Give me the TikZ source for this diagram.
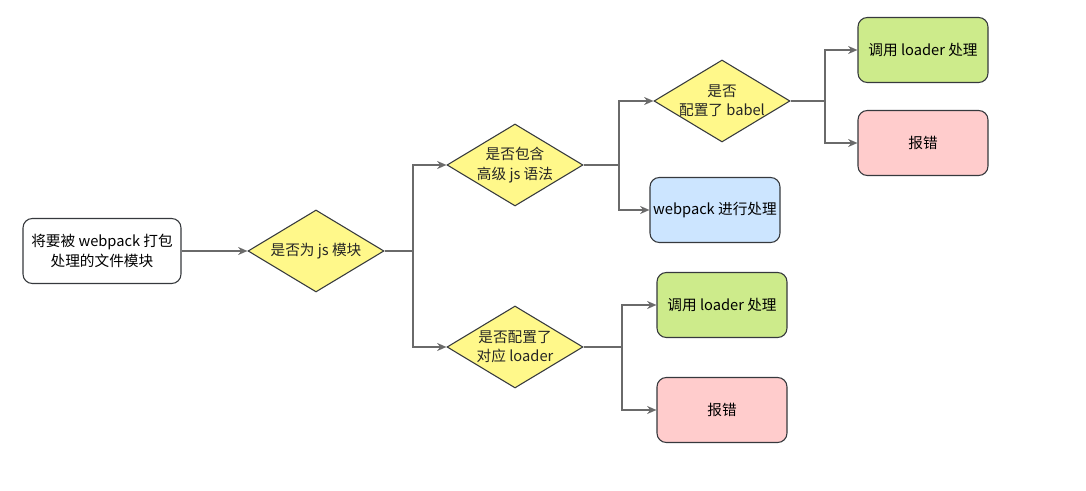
\documentclass[tikz,border=0pt]{standalone}
\usepackage{fontspec}
\setmainfont{Noto Sans CJK SC}
\usetikzlibrary{shapes.geometric,arrows.meta}

\definecolor{edgegray}{HTML}{6A6A6A}
\definecolor{strokegray}{HTML}{36393D}
\definecolor{askyellow}{HTML}{FFF88A}
\definecolor{okgreen}{HTML}{CDEB8B}
\definecolor{errpink}{HTML}{FFCCCC}
\definecolor{doblue}{HTML}{CCE5FF}

\begin{document}
\begin{tikzpicture}[x=0.75pt,y=-0.75pt,
		font=\fontsize{11}{14.5}\selectfont,
		box/.style={draw=strokegray,line width=0.8pt,rounded corners=7pt,minimum width=97.5pt,minimum height=48.75pt,align=center,inner sep=0pt},
		ask/.style={diamond,draw=strokegray,line width=0.8pt,fill=askyellow,minimum width=102pt,minimum height=61.5pt,inner sep=0pt},
		txt/.style={align=center,inner sep=0pt,text=black!85},
		arr/.style={->,draw=edgegray,line width=1.1pt,>={Stealth[open,length=7pt,width=6pt]}}]
		\useasboundingbox (0,0) rectangle (1086,491);% size of the screenshot

		% nodes
		\node[box,fill=white,minimum width=118.5pt] (file) at (102,251) {将要被 webpack 打包\\处理的文件模块};
		\node[ask,label={[txt]center:{是否为 js 模块}}] (isjs) at (316,251) {};
		\node[ask,label={[txt]center:{是否包含\\高级 js 语法}}] (adv) at (515,165) {};
		\node[ask,label={[txt]center:{是否配置了\\对应 loader}}] (hasloader) at (515,347) {};
		\node[ask,label={[txt]center:{是否\\配置了 babel}}] (babel) at (722,101) {};
		\node[box,fill=doblue] (wp) at (715,210) {webpack 进行处理};
		\node[box,fill=okgreen] (callA) at (923,50) {调用 loader 处理};
		\node[box,fill=errpink] (errA) at (923,143) {报错};
		\node[box,fill=okgreen] (callB) at (722,305) {调用 loader 处理};
		\node[box,fill=errpink] (errB) at (722,410) {报错};

		% branch points
		\coordinate (fork1) at (413,251);
		\coordinate (fork2) at (619,165);
		\coordinate (fork3) at (825,101);
		\coordinate (fork4) at (622,347);

		% connectors
		\draw[arr] (file.east) -- (isjs.west);
		\draw[arr] (isjs.east) -- (fork1) |- (adv.west);
		\draw[arr] (fork1) |- (hasloader.west);
		\draw[arr] (adv.east) -- (fork2) |- (babel.west);
		\draw[arr] (fork2) |- (wp.west);
		\draw[arr] (babel.east) -- (fork3) |- (callA.west);
		\draw[arr] (fork3) |- (errA.west);
		\draw[arr] (hasloader.east) -- (fork4) |- (callB.west);
		\draw[arr] (fork4) |- (errB.west);
	\end{tikzpicture}
\end{document}
